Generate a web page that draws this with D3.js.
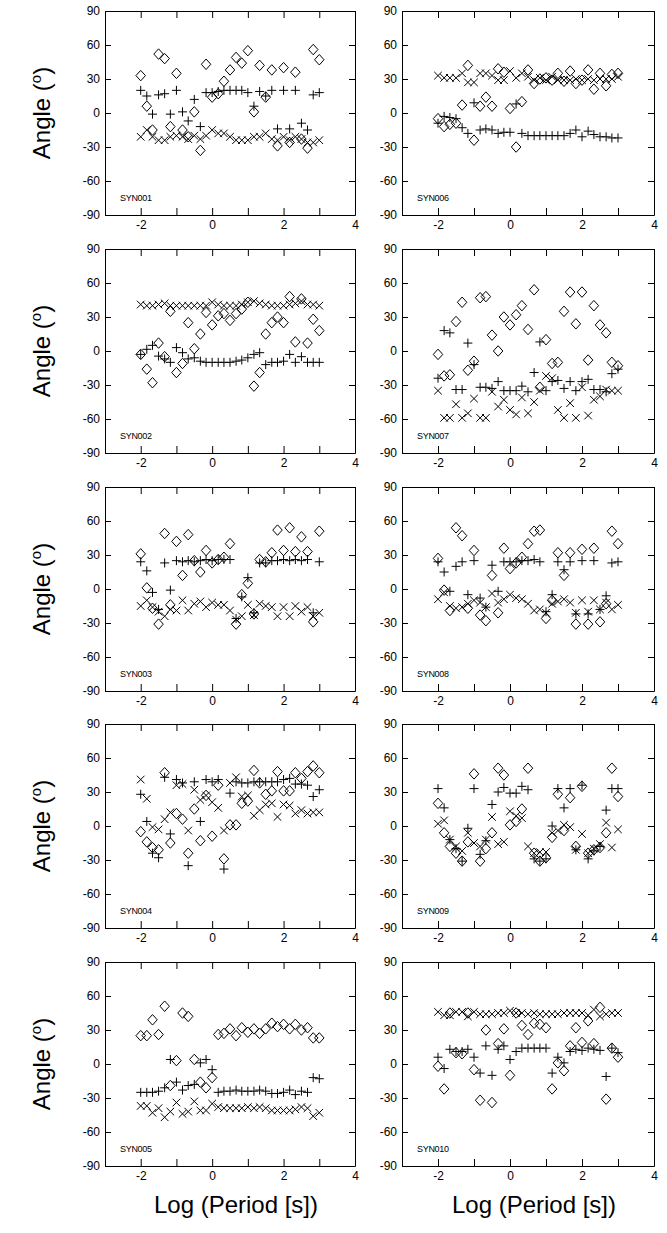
<!DOCTYPE html>
<html>
<head>
    <meta charset="utf-8">
    <title>SYN polarization angles</title>
    <script src="https://d3js.org/d3.v7.min.js"></script>
    <style>
        body { margin: 0; background: #fff; }
        svg { display: block; font-family: "Liberation Sans", Arial, sans-serif; }
        .tick text { font-size: 12px; fill: #000; }
        .tick line, .domain { stroke: #000; }
    </style>
</head>
<body>
<svg id="chart"></svg>
<script>
// log10 of period in s, shared by every panel
var logPeriod = [-2, -1.83, -1.67, -1.5, -1.33, -1.17, -1, -0.83, -0.67, -0.5, -0.33, -0.17, 0,
    0.17, 0.33, 0.5, 0.67, 0.83, 1, 1.17, 1.33, 1.5, 1.67, 1.83, 2, 2.17, 2.33, 2.5, 2.67, 2.83, 3];
var yTicks = [-90, -60, -30, 0, 30, 60, 90];
var xTicks = [-2, -1, 0, 1, 2, 3, 4];
var xLabelTicks = [-2, 0, 2, 4];
var panelNames = ["SYN001", "SYN002", "SYN003", "SYN004", "SYN005",
                  "SYN006", "SYN007", "SYN008", "SYN009", "SYN010"];

// angles (deg) per panel: diamond, plus, cross series
var syn001Diamond = [33, 6, -15, 52, 48, -12, 35, -15, -21, 1, -33, 43, 14, 17, 28, 38, 49, 44, 55, 1, 42, 14, 38, -29, 40, -26, 36, -23, -31, 56, 47];
var syn001Plus    = [20, 15, -1, 16, 17, -1, 20, 1, -7, 12, -12, 18, 18, 19, 20, 20, 20, 20, 18, 6, 19, 15, 20, -14, 20, -14, 20, -9, -15, 16, 18];
var syn001Cross   = [-21, -15, -21, -24, -24, -21, -20, -21, -23, -20, -23, -20, -15, -18, -18, -21, -24, -24, -24, -21, -21, -18, -23, -24, -21, -24, -21, -23, -26, -26, -24];

var syn002Diamond = [-3, -16, -28, 7, -5, 35, -19, -11, 25, 2, 15, 34, 23, 31, 33, 27, 33, 37, 43, -31, -19, 15, 25, 30, 25, 48, 8, 46, 7, 28, 18];
var syn002Plus    = [-3, 1.5, 5, -4.5, -7, -10, 3, -1.5, -7, -6, -9, -10, -10, -10, -10, -10, -9, -8, -6, -3, -1.5, -12, -10, -10, -9, -3, -10, -5, -10, -10, -10];
var syn002Cross   = [41, 40, 40, 41, 42, 40, 40, 40, 40, 40, 40, 40, 43, 41, 40, 40, 40, 41, 43, 44, 42, 41, 40, 40, 40, 41, 42, 44, 41, 41, 40];

var syn003Diamond = [31, 1, -17, -31, 49, -14, 42, 12, 48, 25, 15, 34, 23, 26, 28, 40, -31, -5, 5, -22, 26, 24, 32, 52, 34, 54, 33, 46, 33, -29, 51];
var syn003Plus    = [24, 16, -3, -18, 23, -1, 25, 24, 25, 24, 25, 26, 25, 26, 26, 26, -26, -7, 10, -21, 23, 23, 25, 25, 26, 25, 26, 25, 26, -21, 24];
var syn003Cross   = [-15, -10, -16, -20, -24, -18, -19, -10, -19, -13, -11, -16, -12, -14, -14, -19, -27, -24, -14, -23, -13, -15, -16, -24, -16, -24, -15, -20, -16, -24, -21];

var syn004Diamond = [-5, -14, -19, -21, 47, -15, 11, 6, -24, 15, -13, 27, -9, 36, -29, 1, 1, 20, 22, 49, 38, 28, 31, 48, 31, 31, 47, 42, 48, 53, 47];
var syn004Plus    = [28, 4, -24, -28, 43, -7, 41, 38, -35, 39, 4, 41, 39, 41, -38, 29, 39, 38, 38, 39, 39, 39, 39, 39, 41, 42, 37, 37, 36, 26, 32];
var syn004Cross   = [41, 24, -1, -3, 6, 12, 36, 37, -4, 32, 23, 27, 21, 16, -4, 38, 43, 26, 27, 9, 14, 19, 20, 8, 19, 18, 11, 14, 11, 12, 12];

var syn005Diamond = [25, 25, 39, 26, 51, -19, 3, 45, 42, 4, -16, -21, -12, 26, 27, 31, 25, 32, 28, 31, 27, 31, 36, 33, 35, 31, 35, 30, 32, 23, 23];
var syn005Plus    = [-25, -25, -25, -24, -21, 4, -16, -23, -19, -18, 1, 4, -5, -25, -24, -24, -23, -24, -24, -24, -23, -24, -26, -26, -25, -23, -27, -24, -25, -12, -13];
var syn005Cross   = [-37, -37, -43, -39, -47, -42, -34, -44, -42, -33, -41, -41, -35, -38, -39, -39, -39, -39, -38, -39, -38, -39, -41, -41, -41, -41, -40, -38, -39, -46, -43];

var syn006Diamond = [-5, -12, -10, -9, 7, 42, -24, 6, 14, 6, 39, 36, 4, -30, 10, 38, 26, 30, 31, 29, 35, 28, 37, 26, 29, 38, 21, 35, 24, 34, 35];
var syn006Plus    = [-9, -3, -4, -5, -13, -18, 9, -15, -14, -15, -18, -17, -17, 8, -18, -20, -20, -20, -20, -20, -20, -20, -18, -15, -21, -16, -19, -21, -21, -22, -22];
var syn006Cross   = [33, 31, 31, 31, 35, 27, 27, 35, 35, 33, 29, 29, 37, 31, 35, 32, 29, 31, 29, 32, 29, 29, 29, 30, 29, 30, 29, 30, 30, 30, 32];

var syn007Diamond = [-3, -22, -21, 26, 43, -17, -9, 47, 48, 14, 0, 30, 23, 32, 40, 19, 54, -32, 10, -11, -10, 35, 52, 24, 52, -8, 40, 23, 16, -10, -13];
var syn007Plus    = [-24, 18, 16, -34, -34, 7, -12, -32, -32, -33, -27, -35, -35, -35, -31, -36, -19, 8, -35, -27, -26, -33, -27, -35, -27, -25, -34, -34, -36, -20, -16];
var syn007Cross   = [-35, -59, -59, -47, -59, -55, -42, -59, -59, -36, -49, -43, -52, -56, -41, -55, -45, -35, -22, -24, -52, -59, -46, -59, -32, -57, -43, -40, -34, -35, -35];

var syn008Diamond = [27, -1, -19, 54, 47, -17, 34, -23, -28, 12, -21, 36, 18, 23, 28, 40, 51, 52, -26, -10, 32, 12, 32, -31, 35, -31, 36, -29, -13, 51, 40];
var syn008Plus    = [24, 15, -2, 20, 24, -5, 25, -8, -16, 21, -2, 24, 24, 24, 25, 25, 26, 24, -20, -5, 24, 17, 24, -22, 25, -22, 25, -18, -6, 23, 24];
var syn008Cross   = [-9, -3, -15, -17, -16, -13, -10, -12, -16, -4, -12, -9, -5, -8, -9, -13, -19, -18, -21, -13, -11, -9, -12, -21, -10, -20, -10, -18, -12, -18, -14];

var syn009Diamond = [20, -6, -18, -24, -31, -14, 46, -31, -20, -6, 51, 45, 1, 4, 15, 51, -24, -31, -28, -10, 28, -4, 25, -18, 35, -24, -21, -19, -6, 51, 26];
var syn009Plus    = [33, 16, -12, -20, -31, -2, 33, -25, -13, 19, 30, 34, 29, 29, 35, 32, -29, -31, -29, 0, 33, 16, 33, -21, 36, -29, -22, -18, 14, 33, 33];
var syn009Cross   = [2, 5, -12, -18, -22, -6, -15, -18, -12, 8, -16, -14, 13, 9, 7, -18, -24, -23, -23, -6, -4, 1, -1, -21, -7, -24, -20, -16, 3, -19, -3];

var syn010Diamond = [-2, -22, 45, 10, 9, 45, -5, -32, 30, -34, 18, 31, -10, 45, 34, 26, 36, 35, 32, -22, 1, -6, 16, 32, 19, 38, 18, 50, -31, 14, 6];
var syn010Plus    = [6, -4, 13, 11, 11, 13, 6, -8, 16, -10, 13, 16, 4, 11, 14, 14, 14, 14, 14, -8, 6, 1, 11, 13, 12, 14, 13, 12, -11, 14, 10];
var syn010Cross   = [46, 43, 43, 46, 46, 42, 46, 44, 44, 44, 45, 45, 47, 45, 45, 44, 45, 44, 44, 44, 44, 45, 45, 45, 45, 43, 48, 42, 44, 45, 45];

var diamondSeries = [syn001Diamond, syn002Diamond, syn003Diamond, syn004Diamond, syn005Diamond,
                     syn006Diamond, syn007Diamond, syn008Diamond, syn009Diamond, syn010Diamond];
var plusSeries = [syn001Plus, syn002Plus, syn003Plus, syn004Plus, syn005Plus,
                  syn006Plus, syn007Plus, syn008Plus, syn009Plus, syn010Plus];
var crossSeries = [syn001Cross, syn002Cross, syn003Cross, syn004Cross, syn005Cross,
                   syn006Cross, syn007Cross, syn008Cross, syn009Cross, syn010Cross];

var width = 667, height = 1233;
var colLeft = [105, 402], colWidth = [250, 252];
var rowTop = [11, 249, 487, 724, 962], boxH = 204;

var svg = d3.select("#chart").attr("width", width).attr("height", height);

// symbol types where "size" is the half-extent in px
var diamondType = { draw: function(c, r) {
    c.moveTo(0, -r * 1.05); c.lineTo(r * 0.95, 0); c.lineTo(0, r * 1.05); c.lineTo(-r * 0.95, 0); c.closePath();
} };
var plusType = { draw: function(c, r) {
    c.moveTo(-r, 0); c.lineTo(r, 0); c.moveTo(0, -r); c.lineTo(0, r);
} };
var crossType = { draw: function(c, r) {
    c.moveTo(-r, -r); c.lineTo(r, r); c.moveTo(r, -r); c.lineTo(-r, r);
} };
var symDiamond = d3.symbol().type(diamondType).size(5);
var symPlus = d3.symbol().type(plusType).size(4.5);
var symCross = d3.symbol().type(crossType).size(3.8);

panelNames.forEach(function(name, i) {
    var col = Math.floor(i / 5), row = i % 5;
    var x0 = colLeft[col], w = colWidth[col], y0 = rowTop[row];

    var x = d3.scaleLinear().domain([-3, 4]).range([0, w]);
    var y = d3.scaleLinear().domain([-90, 90]).range([boxH, 0]);

    var g = svg.append("g").attr("transform", "translate(" + x0 + "," + y0 + ")");

    g.append("g")
        .attr("transform", "translate(0," + boxH + ")")
        .call(d3.axisBottom(x).tickValues(xTicks).tickSizeInner(-7).tickSizeOuter(0).tickPadding(5)
            .tickFormat(function(d) { return xLabelTicks.indexOf(d) >= 0 ? String(d) : ""; }));
    g.append("g")
        .call(d3.axisTop(x).tickValues(xTicks).tickSizeInner(-7).tickSizeOuter(0).tickFormat(""));
    g.append("g")
        .call(d3.axisLeft(y).tickValues(yTicks).tickSizeInner(-6).tickSizeOuter(0).tickPadding(5)
            .tickFormat(function(d) { return String(d); }));
    g.append("g")
        .attr("transform", "translate(" + w + ",0)")
        .call(d3.axisRight(y).tickValues(yTicks).tickSizeInner(-6).tickSizeOuter(0).tickFormat(""));

    g.append("text")
        .attr("x", 15).attr("y", boxH - 14)
        .attr("font-size", 9)
        .attr("letter-spacing", -0.3)
        .text(name);

    function drawSeries(values, sym) {
        g.append("g")
            .selectAll("path")
            .data(logPeriod.map(function(p, k) { return [p, values[k]]; })
                .filter(function(d) { return d[1] != null; }))
            .enter()
            .append("path")
            .attr("transform", function(d) { return "translate(" + x(d[0]) + "," + y(d[1]) + ")"; })
            .attr("d", sym)
            .attr("fill", "none")
            .attr("stroke", "#000")
            .attr("stroke-width", 1);
    }
    drawSeries(diamondSeries[i], symDiamond);
    drawSeries(plusSeries[i], symPlus);
    drawSeries(crossSeries[i], symCross);

    if (col === 0) {
        var t = svg.append("text")
            .attr("transform", "translate(50," + (y0 + boxH / 2) + ") rotate(-90)")
            .attr("text-anchor", "middle")
            .attr("font-size", 24);
        t.append("tspan").text("Angle (");
        t.append("tspan").attr("font-size", 15).attr("dy", -9).text("o");
        t.append("tspan").attr("dy", 9).text(")");
    }
    if (row === 4) {
        svg.append("text")
            .attr("x", x0 + w / 2 + 6).attr("y", 1213)
            .attr("text-anchor", "middle")
            .attr("font-size", 24)
            .text("Log (Period [s])");
    }
});
</script>
</body>
</html>
